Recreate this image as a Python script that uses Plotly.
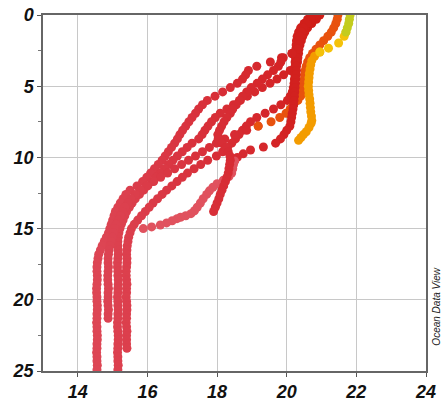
import plotly.graph_objects as go

# ---------------- data (temperature °C vs depth m) ----------------
x_ticks = [14, 16, 18, 20, 22, 24]
y_ticks = [0, 5, 10, 15, 20, 25]

# common depth grid of the CTD casts (m)
depth_grid = [0.0, 0.3, 0.6, 0.9, 1.2, 1.5, 1.8, 2.1, 2.4, 2.7, 3.0, 3.3, 3.6, 3.9, 4.2, 4.5, 4.8, 5.1, 5.4, 5.7,
              6.0, 6.3, 6.6, 6.9, 7.2, 7.5, 7.8, 8.1, 8.4, 8.7, 9.0, 9.3, 9.6, 9.9, 10.2, 10.5, 10.8, 11.1, 11.4, 11.7,
              12.0, 12.3, 12.6, 12.9, 13.2, 13.5, 13.8, 14.1, 14.4, 14.7, 15.0, 15.3, 15.6, 15.9, 16.2, 16.5, 16.8, 17.1, 17.4, 17.7,
              18.0, 18.3, 18.6, 18.9, 19.2, 19.5, 19.8, 20.1, 20.4, 20.7, 21.0, 21.3, 21.6, 21.9, 22.2, 22.5, 22.8, 23.1, 23.4, 23.7,
              24.0, 24.3, 24.6, 24.9]

pa_temp = [20.95, 20.85, 20.72, 20.60, 20.52, 20.46, 20.42, 20.38, 20.32, 20.15, 19.85, 19.53, 19.14, 18.90, 18.82, 18.73, 18.58, 18.38, 18.16, 17.94,
           17.72, 17.58, 17.47, 17.38, 17.28, 17.19, 17.10, 17.01, 16.93, 16.86, 16.78, 16.69, 16.60, 16.51, 16.42, 16.31, 16.20, 16.09, 15.98, 15.86,
           15.70, 15.50, 15.38, 15.30, 15.22, 15.15, 15.08, 15.04, 15.00, 14.96, 14.92, 14.88, 14.82, 14.76, 14.70, 14.65, 14.60, 14.58, 14.56, 14.55,
           14.55, 14.56, 14.56, 14.55, 14.54, 14.54, 14.55, 14.55, 14.56, 14.56, 14.55, 14.55, 14.54, 14.55, 14.55, 14.56, 14.56, 14.55, 14.55, 14.54,
           14.55, 14.55, 14.56, 14.55]

pb_temp = [20.85, 20.75, 20.62, 20.52, 20.45, 20.41, 20.39, 20.37, 20.35, 20.34, 20.32, 20.31, 20.25, 20.10, 19.91, 19.72, 19.52, 19.30, 19.08, 18.87,
           18.67, 18.47, 18.28, 18.09, 17.95, 17.84, 17.74, 17.65, 17.57, 17.47, 17.28, 17.14, 17.00, 16.86, 16.73, 16.61, 16.49, 16.37, 16.25, 16.13,
           16.01, 15.89, 15.77, 15.65, 15.56, 15.48, 15.40, 15.35, 15.30, 15.25, 15.21, 15.18, 15.16, 15.15, 15.15, 15.16, 15.16, 15.15, 15.14, 15.14,
           15.15, 15.15, 15.16, 15.16, 15.15, 15.15, 15.14, 15.15, 15.15, 15.16, 15.15, 15.15, 15.14, 15.14, 15.15, 15.16, 15.16, 15.15, 15.15, 15.14,
           15.15, 15.15, 15.16, 15.15]

pc_temp = [20.70, 20.60, 20.50, 20.40, 20.34, 20.30, 20.28, 20.27, 20.26, 20.26, 20.25, 20.24, 20.24, 20.23, 20.23, 20.22, 20.21, 20.19, 20.16, 20.10,
           20.02, 19.83, 19.62, 19.38, 19.14, 18.96, 18.84, 18.73, 18.63, 18.53, 18.42, 18.30, 18.16, 17.98, 17.73, 17.53, 17.34, 17.15, 17.00, 16.85,
           16.70, 16.55, 16.42, 16.29, 16.16, 16.05, 15.94, 15.83, 15.72, 15.62, 15.54, 15.50, 15.46, 15.44, 15.42, 15.41, 15.40, 15.41, 15.41, 15.40,
           15.39, 15.39, 15.40, 15.41, 15.40, 15.40, 15.39, 15.40, 15.41, 15.41, 15.40, 15.40, 15.39, 15.40, 15.41, 15.40, 15.40, 15.40, 15.41]

pd_temp = [21.47, 21.45, 21.41, 21.35, 21.28, 21.18, 21.06, 20.95, 20.84, 20.74, 20.66, 20.60, 20.56, 20.53, 20.51, 20.50, 20.48, 20.46, 20.44, 20.40,
           20.32, 20.20, 20.10, 19.98, 19.80, 19.55, 19.18, 18.85, 18.50, 18.22, 17.98, 17.78, 17.58, 17.38, 17.18, 16.98, 16.78, 16.58, 16.38, 16.18,
           15.98, 15.80, 15.65, 15.53, 15.44, 15.35, 15.28, 15.22, 15.16, 15.10, 15.05, 15.02, 14.99, 14.96, 14.93, 14.90, 14.88, 14.87, 14.87, 14.88,
           14.87, 14.86, 14.86, 14.87, 14.88, 14.87, 14.87, 14.86, 14.87, 14.88, 14.87, 14.87]

pf_temp = [20.80, 20.70, 20.58, 20.48, 20.42, 20.38, 20.36, 20.34, 20.31, 20.15, 19.90, 19.83, 19.76, 19.62, 19.45, 19.30, 19.15, 18.98, 18.85, 18.73,
           18.64, 18.55, 18.45, 18.38, 18.28, 18.20, 18.13, 18.07, 18.02, 18.03, 18.13, 18.24, 18.32, 18.37, 18.38, 18.36, 18.34, 18.32, 18.28, 18.24,
           18.19, 18.14, 18.09, 18.05, 18.00, 17.95, 17.90]

pg_depth = [0.0, 0.3, 0.6, 0.9, 1.2, 1.5, 1.8, 2.1, 2.4, 2.7, 3.0, 3.3, 3.6, 3.9, 4.2, 4.5, 4.8, 5.1, 5.4, 5.7,
            6.0, 6.3, 6.6, 6.9, 7.2, 7.5, 7.8, 8.1, 8.4, 8.7, 9.0, 9.27, 9.48, 9.75, 10.0, 10.25, 10.5, 10.8, 11.1, 11.35,
            11.6, 11.85, 12.1, 12.35, 12.6, 12.9, 13.2, 13.5, 13.75, 13.95, 14.1, 14.2, 14.3, 14.45, 14.6, 14.75, 14.88, 15.0]
pg_temp = [20.75, 20.65, 20.52, 20.44, 20.38, 20.35, 20.34, 20.33, 20.32, 20.31, 20.30, 20.29, 20.28, 20.28, 20.27, 20.26, 20.25, 20.24, 20.23, 20.22,
           20.21, 20.20, 20.18, 20.16, 20.14, 20.12, 20.09, 20.00, 19.92, 19.82, 19.68, 19.33, 18.96, 18.75, 18.58, 18.50, 18.47, 18.45, 18.42, 18.34,
           18.18, 18.00, 17.88, 17.78, 17.70, 17.60, 17.52, 17.43, 17.35, 17.25, 17.10, 16.95, 16.85, 16.71, 16.55, 16.37, 16.12, 15.88]

py_depth = [0.0, 0.3, 0.6, 0.9, 1.2, 1.5, 1.97, 2.33, 2.6, 2.9, 3.2, 3.5, 3.8, 4.1, 4.4, 4.7, 5.0, 5.3, 5.6, 5.9,
            6.2, 6.5, 6.8, 7.1, 7.4, 7.6, 7.9, 8.2, 8.4, 8.6, 8.8]
py_temp = [21.82, 21.80, 21.78, 21.74, 21.70, 21.65, 21.49, 21.20, 20.95, 20.80, 20.72, 20.69, 20.67, 20.65, 20.64, 20.63, 20.62, 20.63, 20.64, 20.66,
           20.67, 20.68, 20.69, 20.71, 20.72, 20.70, 20.64, 20.56, 20.48, 20.41, 20.34]

# ---------------- figure ----------------
RED_SCALE = [[0, '#dd4655'], [0.4, '#d93440'], [0.8, '#d5262a'], [1, '#d01e18']]
MSIZE = 9
fig = go.Figure()


def add(temp, depth, color=None):
    marker = dict(size=MSIZE, line=dict(width=0))
    if color is None:
        marker.update(color=temp, colorscale=RED_SCALE, cmin=14.5, cmax=20.7)
    else:
        marker.update(color=color)
    fig.add_trace(go.Scatter(x=temp, y=depth, mode='markers', marker=marker,
                             showlegend=False, hoverinfo='skip'))


def grid(temp):
    return depth_grid[:len(temp)]


add(pa_temp, grid(pa_temp))
add(pb_temp, grid(pb_temp))
add(pc_temp, grid(pc_temp))
add(pd_temp[26:], grid(pd_temp)[26:])
add(pd_temp[:27], grid(pd_temp)[:27], '#e8520e')
add(pg_temp[:36], pg_depth[:36])
add(pg_temp[35:], pg_depth[35:], '#e0525e')
add(pf_temp, grid(pf_temp))
add(py_temp[8:], py_depth[8:], '#f39c00')
add(py_temp[4:9], py_depth[4:9], '#f4c20a')
add(py_temp[:5], py_depth[:5], '#c3cc1e')

tick_font = dict(family='Liberation Sans, Arial, sans-serif', size=18, color='#111111',
                 weight='bold', style='italic')

fig.update_layout(
    width=441, height=401,
    margin=dict(l=43, r=15, t=15, b=30),
    paper_bgcolor='white', plot_bgcolor='white',
    showlegend=False,
)
fig.update_xaxes(
    range=[13, 24], tickmode='array', tickvals=x_ticks, ticktext=[str(v) for v in x_ticks],
    ticks='outside', ticklen=4, tickcolor='#555555', tickwidth=1,
    showgrid=True, gridcolor='#c8c8c8', gridwidth=1,
    showline=True, linecolor='#666666', linewidth=1.5, mirror=True, zeroline=False,
    tickfont=tick_font, automargin=False,
)
fig.update_yaxes(
    range=[25, 0], tickmode='array', tickvals=y_ticks, ticktext=[str(v) for v in y_ticks],
    ticks='outside', ticklen=4, tickcolor='#555555', tickwidth=1,
    minor=dict(tickvals=[2.5, 7.5, 12.5, 17.5, 22.5], ticks='outside', ticklen=3,
               tickcolor='#777777', showgrid=False),
    showgrid=True, gridcolor='#c8c8c8', gridwidth=1,
    showline=True, linecolor='#666666', linewidth=1.5, mirror=True, zeroline=False,
    tickfont=tick_font, automargin=False,
)
fig.add_annotation(
    text='Ocean Data View', xref='paper', yref='paper', x=1.028, y=0.18,
    xanchor='center', yanchor='middle',
    textangle=-90, showarrow=False,
    font=dict(family='Liberation Sans, Arial, sans-serif', size=10, color='#222222', style='italic'),
)

fig.write_html('out.html', config={'displayModeBar': False},
               post_script="document.body.style.margin='0';document.body.style.overflow='hidden';")
